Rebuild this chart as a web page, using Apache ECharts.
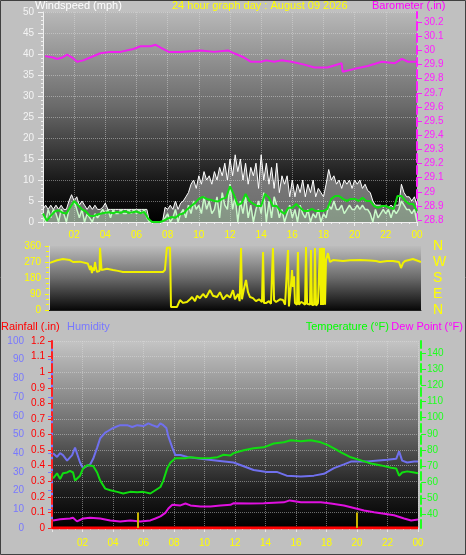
<!DOCTYPE html>
<html><head><meta charset="utf-8">
<script src="https://cdn.jsdelivr.net/npm/echarts@6/dist/echarts.min.js"></script>
<style>html,body{margin:0;padding:0;background:#c0c0c0;}#c{width:466px;height:555px;}</style>
</head><body><div id="c"></div>
<script>
// ---------- DATA ----------
const xTickLabels = ['', '02','04','06','08','10','12','14','16','18','20','22','00'];
const baroTicks = [28.8,28.9,29,29.1,29.2,29.3,29.4,29.5,29.6,29.7,29.8,29.9,30,30.1,30.2];
const tempTicks = [40,50,60,70,80,90,100,110,120,130,140];
const dirLetters = {0:'N',90:'E',180:'S',270:'W',360:'N'};

// wind gust (mph), every 10 minutes from 00:00 to 24:00
const windGust = [
 3,4,3,4,3,4, 3,4,3,3,5,6.5, 5,6,4,5,4,3, 4,3,4,3,3,3.5, 4.5,3,3,3,3,3, 3,3,3,3,3,3,
 3,3,3,3,3,0, 0,0,0,0,0,3.5, 3,4,3,5,3,4.5, 5,6,7,9,10,8, 11,9,12,10,11,9, 12,10,13,11,14,10,
 15,11,16,12,15,10, 14,9,13,11,14,8, 16,10,14,9,13,8, 14,7,11,9,11,6, 10,6,9,7,10,6, 9,7,10,6,8,7,
 6,9,12.5,10,11,9, 10,8,10,9,10,8, 10,9,10,8,9,7.5, 7,5,4,4,4,3.5, 4,3.5,4,3.5,4,4, 9,7,6,6,5,6, 4];
// wind speed (mph), every 10 minutes
const windSpeed = [
 2,0,3,1,3,2, 0,3,2,0,3,4, 5,3,1,3,0,2, 1,0,2,1,2,3, 2,3,1,3,2,2, 3,2,2,3,2,3,
 2,3,2,3,1,0, 0,0,0,0,0,1, 2,0,1,3,0,2, 3,1,4,2,5,3, 4,2,6,3,5,2, 3,6,1,7,4,3,
 9,3,6,0,5,2, 6,1,4,0,3,5, 2,7,0,5,1,6, 4,1,3,0,2,4, 1,3,0,4,2,1, 3,0,2,1,3,0,
 2,1,4,3,5,3, 3,4,2,3,4,3, 3,4,3,4,3,3, 2,0,3,1,2,3, 2,3,1,3,2,3, 5,4,3,3,2,3, 0];
// average wind speed (mph), every 15 minutes
const windAvg = [
 2.0,0.3,1.5,2.5, 2.8,2.2,2.0,3.5, 5.0,4.0,3.0,2.5, 1.5,1.4,1.8,2.0, 2.2,2.3,2.1,2.4, 2.2,2.6,2.2,2.3,
 2.5,2.1,2.4,0.8, 0,0,0,0.3, 0.8,1.2,1.0,1.8, 2.0,3.0,3.8,4.5, 5.5,6.0,5.5,5.3, 5.0,4.9,5.5,5.8,
 8.5,6.5,4.0,4.5, 6.7,5.0,4.3,3.8, 3.8,6.7,5.8,3.8, 3.8,2.6,1.9,3.4, 3.4,4.3,3.4,2.6, 2.6,3.1,2.6,2.6,
 2.6,3.1,5.5,6.2, 6.2,5.5,5.0,5.5, 5.5,5.0,5.8,5.0, 5.0,3.8,3.4,3.8, 3.8,3.4,3.1,6.2, 6.2,5.0,4.3,4.3, 2.6];

const baroHours = [0.13,0.65,0.9,1.23,1.55,1.87,2.19,2.58,3.03,3.68,4.32,4.97,5.8,6.26,6.9,7.23,7.55,8.06,8.84,10.13,10.97,11.87,12.26,12.9,13.35,14.0,14.32,14.84,15.29,15.94,16.77,17.42,18.26,19.16,19.23,20.0,20.84,21.74,22.58,23.03,23.42,24.0];
const baroValues = [29.96,29.95,29.94,29.95,29.97,29.95,29.92,29.93,29.95,29.98,29.99,29.99,30.01,30.03,30.03,30.04,30.02,29.99,29.99,30.0,29.99,30.0,29.98,29.95,29.92,29.92,29.93,29.92,29.93,29.92,29.90,29.88,29.88,29.91,29.85,29.87,29.89,29.92,29.91,29.94,29.92,29.92];

const dirHours = [0.06,0.52,0.9,1.35,1.55,2.0,2.2,2.5,2.65,2.7,2.77,2.84,2.9,2.97,3.03,3.1,3.26,3.29,3.35,3.39,3.74,4.13,4.45,4.77,5.87,7.35,7.48,7.6,7.81,7.87,8.26,8.45,8.65,8.9,9.1,9.23,9.42,9.55,9.74,9.94,10.13,10.39,10.58,10.84,11.03,11.23,11.48,11.68,11.87,12.0,12.06,12.2,12.3,12.39,12.45,12.58,12.71,12.84,12.97,13.16,13.35,13.55,13.74,13.81,13.87,14.0,14.19,14.32,14.45,14.52,14.65,14.9,15.1,15.23,15.35,15.42,15.48,15.61,15.68,15.74,15.81,15.87,16.0,16.06,16.13,16.26,16.39,16.52,16.58,16.65,16.77,16.84,16.9,16.97,17.1,17.16,17.23,17.35,17.42,17.48,17.55,17.61,17.68,17.74,17.81,17.87,18.0,18.13,18.32,18.97,19.42,20.06,20.71,21.1,21.35,21.81,22.19,22.58,22.71,22.84,22.97,23.48,24.0];
const dirDegrees = [265,280,287,281,270,272,268,262,225,250,208,240,220,270,236,214,220,350,350,225,232,225,220,214,214,214,225,350,352,17,17,56,40,45,60,73,50,80,67,90,70,112,80,73,100,60,85,70,112,60,56,90,50,348,60,120,169,100,73,67,50,60,45,326,40,39,50,35,348,56,45,60,56,30,20,337,20,140,225,130,190,40,30,326,30,45,40,30,354,35,39,30,337,28,30,348,25,39,30,348,28,350,28,348,30,281,320,270,281,276,280,281,278,276,270,275,276,270,236,265,276,287,270];

const humHours = [0.07,0.33,0.53,0.72,0.99,1.32,1.51,1.64,1.84,2.04,2.5,2.7,2.96,3.16,3.49,3.7,4.01,4.47,4.93,5.26,5.59,5.99,6.32,6.58,6.91,7.1,7.3,7.5,7.63,7.89,8.09,8.42,8.88,9.74,10.86,11.9,12.57,13.22,14.08,14.74,15.39,16.32,17.17,17.83,18.49,19.14,19.6,20.66,21.97,22.57,22.76,22.96,23.29,23.75,24.0];
const humValues = [40,38,40,39,36,39,43,42,35,32,34,37,43,48,51,52,53.5,55,55,54,55,54.5,56,55,54,56,55,53.5,49,43,39,39,38,37,36,35,33,31,30,30,28,27.5,28,29,32,34,35.5,35.5,36.5,37,41,36,35,35.5,35.5];

const tempHours = [0.07,0.33,0.53,0.72,0.99,1.18,1.38,1.51,1.64,1.84,2.04,2.3,2.7,2.96,3.16,3.49,3.82,4.28,4.67,5.13,5.59,5.99,6.45,6.78,7.11,7.3,7.57,7.76,8.09,8.75,9.08,9.74,10.39,10.86,11.25,11.71,11.91,12.57,13.22,13.88,14.54,15.2,15.66,16.32,16.97,17.63,18.09,18.49,18.95,19.6,20.26,20.92,21.58,22.24,22.57,22.76,22.96,23.29,23.75,24.0];
const tempValues = [62.4,65.5,62,65.5,66,67,66,61,60,64,68.5,70.5,70,66,61,56,55,54,53,54,53.7,54,53,55,57,61,69,72,74.8,74.8,75.4,74.8,75,75.5,77,76.6,78,79.8,81,81.6,84,84.7,86,85.3,86,84.7,83,81,78.5,75.4,73.5,71.6,70.4,69,68.5,64,66,66.7,66,65.5];

const dewHours = [0.07,0.53,1.18,1.38,1.64,2.04,2.5,3.16,3.82,4.47,5.13,5.79,6.45,6.78,7.11,7.43,7.63,7.89,8.42,8.75,9.08,9.74,10.39,11.05,11.71,11.91,13.03,13.88,15.2,15.59,16.32,17.63,18.29,19.14,19.8,20.46,21.12,21.78,22.43,23.09,23.55,24.0];
const dewValues = [36.3,37,37.5,38,35.7,37.5,38,37.5,36.3,35.7,36.3,35.7,36.3,37.5,38.8,41,43.7,46,45.6,46.8,45.6,45,45,45.6,46,47,46.8,47,47.5,48.7,47.5,47.5,46.8,45.6,44,42.4,41.4,40.5,39.5,37.5,36.3,36.8];

const rainHours = [0, 24];
const rainValues = [0, 0];
const sunMarkHours = [5.6, 20.0];
const sunMarkHeight = 0.1;

// ---------- CHART ----------
const zip = (xs, ys) => xs.map((x, i) => [x, ys[i]]);
const every = (arr, step) => arr.map((v, i) => [i * step, v]);
const G = echarts.graphic.LinearGradient;
const font = 'Liberation Sans';
const dotted = { type: 'dotted', color: 'rgba(225,225,225,0.45)', width: 1 };
const xFmt = v => { const k = Math.round(v / 2); return (Math.abs(v - k * 2) < 1e-6 && xTickLabels[k] !== undefined) ? xTickLabels[k] : ''; };

function xAxis(gi, showLabel, margin, lineColor, split) {
  return {
    type: 'value', gridIndex: gi, min: 0, max: 24, interval: 2,
    axisLine: { show: true, lineStyle: { color: lineColor, width: 1 } },
    axisTick: { show: showLabel, length: 4, lineStyle: { color: lineColor } },
    minorTick: { show: showLabel, splitNumber: 4, length: 2, lineStyle: { color: lineColor } },
    axisLabel: { show: showLabel, formatter: xFmt, color: '#ffff00', fontFamily: font, fontSize: 10, margin: margin },
    splitLine: { show: split, lineStyle: dotted }
  };
}

const chart = echarts.init(document.getElementById('c'), null, { renderer: 'canvas' });
chart.setOption({
  animation: false,
  backgroundColor: '#c0c0c0',
  grid: [
    { left: 43, right: 49, top: 12, height: 210, show: true, borderWidth: 0, outerBoundsMode: 'none',
      backgroundColor: new G(0, 0, 0, 1, [{ offset: 0, color: '#b8b8b8' }, { offset: 0.45, color: '#6a6a6a' }, { offset: 0.8, color: '#1a1a1a' }, { offset: 1, color: '#000' }]) },
    { left: 49, right: 45, top: 246, height: 64, show: true, borderWidth: 0, outerBoundsMode: 'none',
      backgroundColor: new G(0, 0, 0, 1, [{ offset: 0, color: '#bdbdbd' }, { offset: 0.5, color: '#6a6a6a' }, { offset: 1, color: '#080808' }]) },
    { left: 52, right: 48, top: 341, height: 187, show: true, borderWidth: 0, outerBoundsMode: 'none',
      backgroundColor: new G(0, 0, 0, 1, [{ offset: 0, color: '#c4c4c4' }, { offset: 0.45, color: '#6e6e6e' }, { offset: 0.8, color: '#1e1e1e' }, { offset: 1, color: '#000' }]) }
  ],
  xAxis: [
    xAxis(0, true, 8, '#f0f0f0', true),
    xAxis(1, false, 8, '#202020', false),
    xAxis(2, true, 10, '#e8e8e8', true)
  ],
  yAxis: [
    { type: 'value', gridIndex: 0, min: 0, max: 50, interval: 5, position: 'left',
      axisLine: { show: true, lineStyle: { color: '#f0f0f0' } },
      axisTick: { show: true, length: 5, lineStyle: { color: '#f0f0f0' } },
      minorTick: { show: true, splitNumber: 5, length: 2, lineStyle: { color: '#f0f0f0' } },
      axisLabel: { color: '#f4f4f4', fontFamily: font, fontSize: 10, margin: 9 },
      splitLine: { show: true, lineStyle: dotted } },
    { type: 'value', gridIndex: 0, min: 28.787, max: 30.272, position: 'right',
      axisLine: { show: true, lineStyle: { color: '#ff20ff', type: 'dashed', width: 2 } },
      axisTick: { show: true, length: 5, customValues: baroTicks, lineStyle: { color: '#ff20ff' } },
      axisLabel: { color: '#ff20ff', fontFamily: font, fontSize: 10, margin: 7, customValues: baroTicks },
      splitLine: { show: false } },
    { type: 'value', gridIndex: 1, min: 0, max: 360, interval: 90, position: 'left',
      axisLine: { show: true, lineStyle: { color: '#d8d8d8' } },
      axisTick: { show: true, length: 4, lineStyle: { color: '#ffff00' } },
      minorTick: { show: true, splitNumber: 3, length: 3, lineStyle: { color: '#ffff00' } },
      axisLabel: { color: '#ffff00', fontFamily: font, fontSize: 10, margin: 8 },
      splitLine: { show: false } },
    { type: 'value', gridIndex: 1, min: 0, max: 360, interval: 90, position: 'right',
      axisLine: { show: false }, axisTick: { show: false },
      axisLabel: { color: '#ffff00', fontFamily: font, fontSize: 14, margin: 12, formatter: v => dirLetters[v] || '' },
      splitLine: { show: false } },
    { type: 'value', gridIndex: 2, min: 0, max: 100, interval: 10, position: 'left', offset: 22,
      axisLine: { show: true, lineStyle: { color: '#7878ff', width: 2 } },
      axisTick: { show: true, length: 4, lineStyle: { color: '#7878ff' } },
      axisLabel: { color: '#7878ff', fontFamily: font, fontSize: 10, margin: 6 },
      splitLine: { show: false } },
    { type: 'value', gridIndex: 2, min: 0, max: 1.2, interval: 0.1, position: 'left',
      axisLine: { show: true, lineStyle: { color: '#ff2020', type: 'dashed', width: 2 } },
      axisTick: { show: true, length: 4, lineStyle: { color: '#ff2020' } },
      axisLabel: { color: '#ff0000', fontFamily: font, fontSize: 10, margin: 7 },
      splitLine: { show: true, lineStyle: dotted } },
    { type: 'value', gridIndex: 2, min: 31.6, max: 147.5, position: 'right', offset: 3,
      axisLine: { show: true, lineStyle: { color: '#20ff20', type: 'dashed', width: 2 } },
      axisTick: { show: true, length: 5, customValues: tempTicks, lineStyle: { color: '#20ff20' } },
      axisLabel: { color: '#20ff20', fontFamily: font, fontSize: 10, margin: 6, customValues: tempTicks },
      splitLine: { show: false } }
  ],
  series: [
    { type: 'line', xAxisIndex: 0, yAxisIndex: 0, data: every(windGust, 1 / 6), symbol: 'none',
      lineStyle: { color: '#ffffff', width: 1 }, areaStyle: { color: 'rgba(235,235,235,0.65)' } },
    { type: 'line', xAxisIndex: 0, yAxisIndex: 0, data: every(windSpeed, 1 / 6), symbol: 'none',
      lineStyle: { color: '#c8f8c8', width: 1.5 }, areaStyle: { color: 'rgba(190,240,190,0.45)' } },
    { type: 'line', xAxisIndex: 0, yAxisIndex: 0, data: every(windAvg, 0.25), symbol: 'none',
      lineStyle: { color: '#10e010', width: 2 } },
    { type: 'line', xAxisIndex: 0, yAxisIndex: 1, data: zip(baroHours, baroValues), symbol: 'none',
      lineStyle: { color: '#f020f0', width: 2 } },
    { type: 'line', xAxisIndex: 1, yAxisIndex: 2, data: zip(dirHours, dirDegrees), symbol: 'none',
      lineStyle: { color: '#f0f000', width: 2 } },
    { type: 'line', xAxisIndex: 2, yAxisIndex: 5, data: zip(rainHours, rainValues), symbol: 'none',
      lineStyle: { color: '#ff0000', width: 3 },
      markLine: { silent: true, symbol: 'none', label: { show: false },
        lineStyle: { color: '#c8b400', width: 2, type: 'solid' },
        data: sunMarkHours.map(h => [{ coord: [h, 0] }, { coord: [h, sunMarkHeight] }]) } },
    { type: 'line', xAxisIndex: 2, yAxisIndex: 4, data: zip(humHours, humValues), symbol: 'none',
      lineStyle: { color: '#7070ee', width: 2 } },
    { type: 'line', xAxisIndex: 2, yAxisIndex: 6, data: zip(tempHours, tempValues), symbol: 'none',
      lineStyle: { color: '#10dd10', width: 2 } },
    { type: 'line', xAxisIndex: 2, yAxisIndex: 6, data: zip(dewHours, dewValues), symbol: 'none',
      lineStyle: { color: '#e010e0', width: 2 } }
  ],
  graphic: [
    { type: 'text', left: 35, top: 0, style: { text: 'Windspeed (mph)', fill: '#ffffff', font: '11px ' + font } },
    { type: 'text', left: 172, top: 0, style: { text: '24 hour graph day : August 09 2026', fill: '#ffff00', font: '11px ' + font } },
    { type: 'text', left: 372, top: 0, style: { text: 'Barometer (.in)', fill: '#ff00ff', font: '11px ' + font } },
    { type: 'text', left: 1, top: 321, style: { text: 'Rainfall (.in)', fill: '#ff0000', font: '11px ' + font } },
    { type: 'text', left: 67, top: 321, style: { text: 'Humidity', fill: '#7878ff', font: '11px ' + font } },
    { type: 'text', right: 77, top: 321, style: { text: 'Temperature (°F)', fill: '#00ff00', font: '11px ' + font } },
    { type: 'text', right: 3, top: 321, style: { text: 'Dew Point (°F)', fill: '#ff00ff', font: '11px ' + font } },
    { type: 'rect', shape: { x: 0.5, y: 0.5, width: 465, height: 554 }, style: { fill: 'none', stroke: '#404040', lineWidth: 1 } }
  ]
});
</script></body></html>
